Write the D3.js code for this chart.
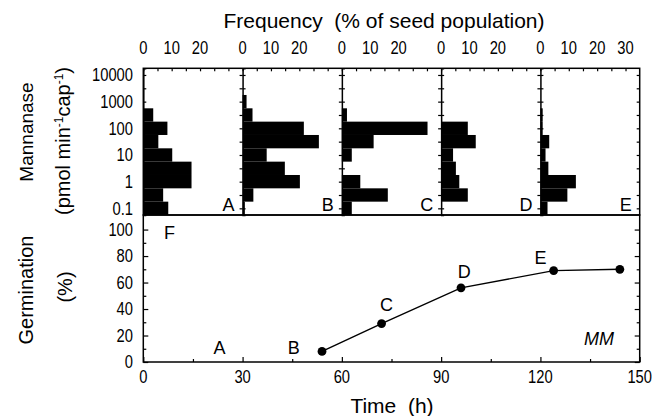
<!DOCTYPE html>
<html>
<head>
<meta charset="utf-8">
<script src="https://cdn.jsdelivr.net/npm/d3@7"></script>
<style>
  body { margin: 0; background: #fff; }
  text { font-family: "Liberation Sans", Arial, sans-serif; fill: #000; }
  .tick { font-size: 18px; }
</style>
</head>
<body>
<div id="chart"></div>
<script>
// histogram bins: log10 of mannanase activity (bin centres, half-decade wide)
const binLogs = [-1, -0.5, 0, 0.5, 1, 1.5, 2, 2.5, 3, 3.5, 4];
const panels = ["A", "B", "C", "D", "E"];
// frequency (% of seed population) per bin, one array per sampling time
const freqA = [8.8, 7.0, 17.0, 17.0, 10.2, 5.3, 8.5, 3.5, 0, 0, 0];
const freqB = [0.8, 3.8, 20.2, 14.9, 8.5, 26.9, 21.6, 3.5, 1.4, 0, 0];
const freqC = [3.5, 16.2, 6.5, 0, 3.5, 11.2, 30.2, 1.8, 0, 0, 0];
const freqD = [0, 9.4, 6.4, 5.2, 4.2, 12.2, 9.4, 0, 0, 0, 0];
const freqE = [2.5, 9.5, 12.5, 2.8, 1.8, 3.1, 0.8, 0.8, 0, 0, 0];
const freqs = [freqA, freqB, freqC, freqD, freqE];
const freqTicks = [[0, 10, 20], [0, 10, 20], [0, 10, 20], [0, 10, 20], [0, 10, 20, 30]];
const logTicks = [0.1, 1, 10, 100, 1000, 10000];

// germination time course
const times = [54, 72, 96, 124, 144];
const germ = [8, 29, 56, 69, 70];
const timeTicks = [0, 30, 60, 90, 120, 150];
const germTicks = [0, 20, 40, 60, 80, 100];
// point labels in data coordinates (time, %)
const ptLabels = [
  {t: 23, g: 11, s: "A"}, {t: 45.5, g: 11, s: "B"}, {t: 73.5, g: 43, s: "C"},
  {t: 97, g: 68.5, s: "D"}, {t: 120, g: 79, s: "E"}
];

const W = 653, H = 416;
const svg = d3.select("#chart").append("svg").attr("width", W).attr("height", H);

const x = d3.scaleLinear().domain([0, 150]).range([143.3, 639.7]);
const yG = d3.scaleLinear().domain([0, 111]).range([362, 215]);
const yM = d3.scaleLog().domain([Math.pow(10, -1.25), Math.pow(10, 4.25)]).range([215, 68.3]);

// narrow-looking tick label (the original uses a condensed face)
function tickText(sel, fx, fy, anchor, dy) {
  sel.append("text").attr("class", "tick")
    .attr("transform", d => "translate(" + fx(d) + "," + fy(d) + ") scale(0.82,1)")
    .attr("dy", dy).attr("text-anchor", anchor).text(d => d);
}

// ---- histograms
panels.forEach(function(p, i) {
  const fx = d3.scaleLinear().domain([0, 35]).range([x(30 * i), x(30 * i + 30)]);
  const g = svg.append("g");
  g.selectAll("rect").data(freqs[i]).enter().append("rect")
    .attr("x", fx(0))
    .attr("y", (d, j) => yM(Math.pow(10, binLogs[j] + 0.25)))
    .attr("height", (d, j) => yM(Math.pow(10, binLogs[j] - 0.25)) - yM(Math.pow(10, binLogs[j] + 0.25)))
    .attr("width", d => fx(d) - fx(0))
    .attr("fill", "#000");

  // top axis
  g.append("g").attr("transform", "translate(0,68.3)")
    .call(d3.axisTop(fx).tickValues(d3.range(0, 35, 5)).tickSize(-3).tickFormat(""))
    .call(a => a.select(".domain").remove());
  tickText(g.selectAll(".tl").data(freqTicks[i]).enter(), d => fx(d), () => 54, "middle", 0);

  // left axis ticks (inside) for each panel
  const lt = [];
  for (let k = -1; k <= 4; k += 0.5) lt.push(Math.pow(10, k));
  g.append("g").attr("transform", "translate(" + fx(0) + ",0)")
    .call(d3.axisLeft(yM).tickValues(lt).tickSize(-3).tickFormat(""))
    .call(a => a.select(".domain").attr("stroke-width", 1.5));
  g.append("g").attr("transform", "translate(" + x(30 * i + 30) + ",0)")
    .call(d3.axisRight(yM).tickValues(lt).tickSize(-3).tickFormat(""))
    .call(a => a.select(".domain").remove());

  g.append("text").attr("x", x(30 * i + 30) - 8).attr("y", 211)
    .attr("text-anchor", "end").style("font-size", "18px").text(p);
});

svg.selectAll(".tick line").attr("stroke-width", 1.2);

// frame of histogram row
svg.append("rect").attr("x", x(0)).attr("y", 68.3).attr("width", x(150) - x(0)).attr("height", 215 - 68.3)
  .attr("fill", "none").attr("stroke", "#000").attr("stroke-width", 1.5);

tickText(svg.selectAll(".ml").data(logTicks).enter(), () => 133, d => yM(d), "end", "0.35em");

// ---- germination panel
const gb = svg.append("g");
gb.append("g").attr("transform", "translate(0,362)")
  .call(d3.axisBottom(x).tickValues(timeTicks).tickSize(-5).tickFormat(""))
  .call(a => a.select(".domain").remove());
gb.append("g").attr("transform", "translate(0,362)")
  .call(d3.axisBottom(x).tickValues(d3.range(15, 150, 30)).tickSize(-3).tickFormat(""))
  .call(a => a.select(".domain").remove());
gb.append("g").attr("transform", "translate(" + x(0) + ",0)")
  .call(d3.axisLeft(yG).tickValues(germTicks).tickSize(-5).tickFormat(""))
  .call(a => a.select(".domain").remove());
gb.append("g").attr("transform", "translate(" + x(0) + ",0)")
  .call(d3.axisLeft(yG).tickValues(d3.range(10, 110, 20)).tickSize(-3).tickFormat(""))
  .call(a => a.select(".domain").remove());
gb.append("g").attr("transform", "translate(" + x(150) + ",0)")
  .call(d3.axisRight(yG).tickValues(germTicks).tickSize(-5).tickFormat(""))
  .call(a => a.select(".domain").remove());
gb.append("g").attr("transform", "translate(" + x(150) + ",0)")
  .call(d3.axisRight(yG).tickValues(d3.range(10, 110, 20)).tickSize(-3).tickFormat(""))
  .call(a => a.select(".domain").remove());
gb.selectAll(".tick line").attr("stroke-width", 1.2);

gb.append("rect").attr("x", x(0)).attr("y", 215).attr("width", x(150) - x(0)).attr("height", 362 - 215)
  .attr("fill", "none").attr("stroke", "#000").attr("stroke-width", 1.5);

const line = d3.line().x((d, i) => x(times[i])).y(d => yG(d));
gb.append("path").datum(germ).attr("d", line)
  .attr("fill", "none").attr("stroke", "#000").attr("stroke-width", 1.4);
gb.selectAll("circle").data(germ).enter().append("circle")
  .attr("cx", (d, i) => x(times[i])).attr("cy", d => yG(d)).attr("r", 4.4).attr("fill", "#000");

gb.selectAll(".pl").data(ptLabels).enter().append("text")
  .attr("x", d => x(d.t)).attr("y", d => yG(d.g)).attr("dy", "0.35em")
  .attr("text-anchor", "middle").style("font-size", "18px").text(d => d.s);
gb.append("text").attr("x", 164).attr("y", 239).style("font-size", "18px").text("F");
gb.append("text").attr("x", 599).attr("y", 345).attr("text-anchor", "middle")
  .style("font-size", "18px").style("font-style", "italic").text("MM");

tickText(gb.selectAll(".bl").data(timeTicks).enter(), d => x(d), () => 383, "middle", 0);
tickText(gb.selectAll(".gl").data(germTicks).enter(), () => 133, d => yG(d), "end", "0.35em");

// ---- titles
svg.append("text").attr("x", 384).attr("y", 28).attr("text-anchor", "middle")
  .style("font-size", "21px").style("white-space", "pre").text("Frequency  (% of seed population)");
svg.append("text").attr("x", 392).attr("y", 413).attr("text-anchor", "middle")
  .style("font-size", "21px").style("white-space", "pre").text("Time  (h)");

function vtitle(cx, cy, size) {
  return svg.append("text").attr("transform", "translate(" + cx + "," + cy + ") rotate(-90)")
    .attr("text-anchor", "middle").style("font-size", size + "px");
}
vtitle(33, 132, 19).text("Mannanase");
const pm = vtitle(70, 141, 20);
pm.append("tspan").text("(pmol min");
pm.append("tspan").attr("dy", -7).style("font-size", "12px").text("-1");
pm.append("tspan").attr("dy", 7).text("cap");
pm.append("tspan").attr("dy", -7).style("font-size", "12px").text("-1");
pm.append("tspan").attr("dy", 7).text(")");
vtitle(33, 290, 20).text("Germination");
vtitle(72, 287, 20).text("(%)");
</script>
</body>
</html>
